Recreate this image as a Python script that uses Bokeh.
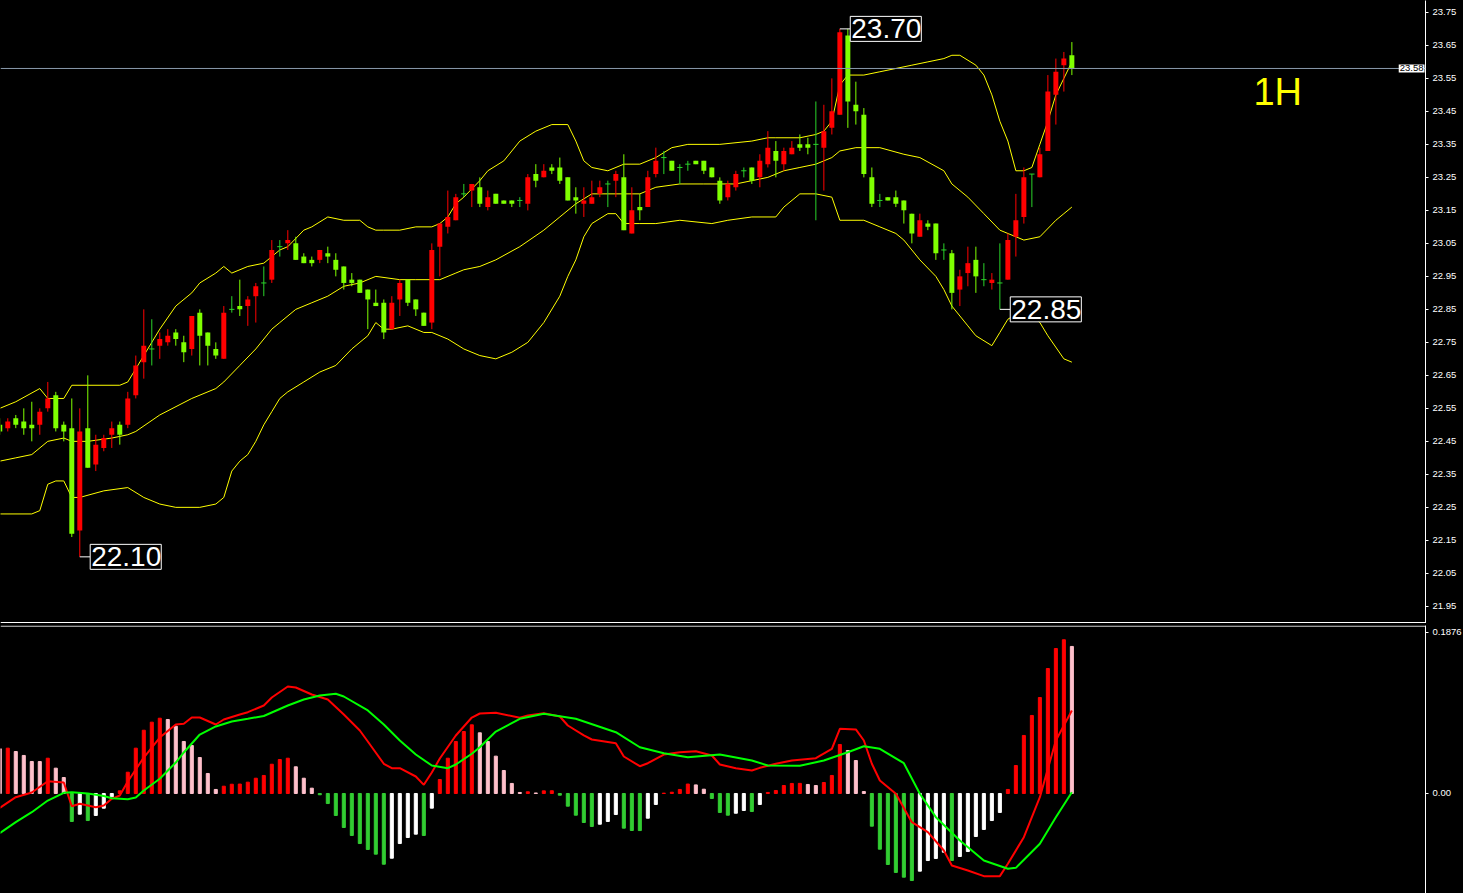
from bokeh.plotting import figure
from bokeh.layouts import column
from bokeh.models import ColumnDataSource, FixedTicker, PrintfTickFormatter, Span, Label, Range1d
from bokeh.embed import file_html
from bokeh.resources import INLINE

# ---------------- data (1H candles) ----------------
opens = [22.50,22.49,22.52,22.51,22.50,22.50,22.55,22.59,22.50,22.49,
         22.18,22.49,22.38,22.43,22.47,22.50,22.50,22.59,22.69,22.73,
         22.74,22.75,22.78,22.75,22.73,22.84,22.78,22.73,22.70,22.85,
         22.86,22.86,22.89,22.93,22.94,23.04,23.05,23.05,23.01,23.00,
         23.00,23.02,23.00,22.98,22.94,22.94,22.91,22.87,22.87,22.79,
         22.88,22.94,22.88,22.84,22.81,23.04,23.10,23.12,23.20,23.21,
         23.22,23.16,23.20,23.18,23.18,23.18,23.17,23.26,23.25,23.28,
         23.28,23.25,23.19,23.17,23.17,23.20,23.23,23.24,23.25,23.08,
         23.16,23.16,23.26,23.31,23.30,23.28,23.29,23.30,23.30,23.28,
         23.24,23.19,23.22,23.27,23.28,23.25,23.29,23.33,23.29,23.32,
         23.35,23.35,23.35,23.34,23.40,23.44,23.68,23.47,23.44,23.25,
         23.18,23.19,23.19,23.18,23.14,23.07,23.11,23.11,23.03,23.02,
         22.91,22.96,23.00,22.94,22.93,22.93,22.94,23.07,23.13,23.26,
         23.25,23.33,23.50,23.59,23.62]
highs = [22.52,22.52,22.53,22.55,22.57,22.55,22.63,22.60,22.51,22.58,
         22.55,22.65,22.47,22.47,22.51,22.51,22.60,22.71,22.85,22.82,
         22.78,22.79,22.79,22.77,22.83,22.85,22.78,22.75,22.86,22.89,
         22.94,22.89,22.93,22.98,23.06,23.06,23.09,23.07,23.02,23.01,
         23.03,23.04,23.02,22.98,22.96,22.94,22.91,22.91,22.88,22.89,
         22.94,22.94,22.88,22.84,23.05,23.11,23.21,23.20,23.23,23.23,
         23.25,23.21,23.20,23.18,23.18,23.19,23.26,23.29,23.29,23.29,
         23.31,23.25,23.22,23.22,23.24,23.24,23.24,23.27,23.32,23.22,
         23.20,23.27,23.34,23.33,23.30,23.29,23.30,23.30,23.30,23.28,
         23.25,23.24,23.27,23.28,23.28,23.32,23.39,23.36,23.34,23.36,
         23.38,23.37,23.48,23.47,23.55,23.70,23.70,23.54,23.46,23.28,
         23.20,23.19,23.21,23.18,23.14,23.14,23.12,23.11,23.05,23.03,
         22.97,23.04,23.04,22.99,22.96,23.05,23.08,23.20,23.28,23.26,
         23.34,23.56,23.61,23.63,23.66]
lows = [22.47,22.48,22.49,22.47,22.45,22.47,22.54,22.48,22.45,22.16,
        22.10,22.37,22.36,22.42,22.43,22.44,22.49,22.58,22.64,22.68,
        22.70,22.74,22.74,22.69,22.71,22.68,22.68,22.70,22.70,22.84,
        22.83,22.80,22.81,22.89,22.93,23.01,23.03,23.00,22.99,22.98,
        22.99,22.99,22.95,22.91,22.92,22.90,22.79,22.86,22.76,22.79,
        22.83,22.86,22.83,22.80,22.79,22.95,23.08,23.12,23.19,23.16,
        23.16,23.15,23.17,23.17,23.16,23.16,23.15,23.22,23.25,23.26,
        23.23,23.18,23.14,23.13,23.17,23.19,23.16,23.19,23.09,23.08,
        23.12,23.16,23.25,23.26,23.27,23.23,23.27,23.29,23.26,23.25,
        23.17,23.18,23.21,23.25,23.23,23.22,23.28,23.25,23.27,23.32,
        23.33,23.32,23.12,23.21,23.38,23.44,23.40,23.41,23.25,23.16,
        23.16,23.18,23.16,23.11,23.05,23.07,23.09,23.00,23.00,22.85,
        22.86,22.92,22.90,22.92,22.91,22.85,22.94,23.01,23.11,23.16,
        23.25,23.33,23.41,23.51,23.56]
closes = [22.48,22.51,22.50,22.49,22.49,22.54,22.58,22.49,22.48,22.17,
          22.48,22.37,22.44,22.46,22.49,22.47,22.58,22.68,22.74,22.73,
          22.76,22.77,22.76,22.72,22.83,22.77,22.74,22.71,22.84,22.85,
          22.85,22.88,22.92,22.93,23.03,23.04,23.06,23.00,22.99,22.99,
          23.03,23.01,22.97,22.93,22.93,22.90,22.88,22.86,22.78,22.87,
          22.93,22.87,22.85,22.80,23.03,23.11,23.13,23.19,23.20,23.23,
          23.17,23.19,23.17,23.17,23.17,23.18,23.25,23.24,23.27,23.27,
          23.24,23.18,23.18,23.18,23.19,23.22,23.23,23.26,23.09,23.15,
          23.15,23.25,23.30,23.31,23.27,23.28,23.29,23.29,23.27,23.25,
          23.18,23.23,23.26,23.27,23.24,23.30,23.34,23.30,23.33,23.34,
          23.34,23.34,23.35,23.39,23.45,23.69,23.48,23.45,23.26,23.17,
          23.18,23.18,23.17,23.15,23.08,23.12,23.10,23.02,23.03,22.90,
          22.95,22.99,22.95,22.94,22.94,22.93,23.06,23.12,23.25,23.26,
          23.32,23.51,23.57,23.61,23.58]

# Bollinger bands (bar index, price)
bb_upper_x = [0,2,5,6,8,9,15,16,18,20,22,24,25,27,28,29,31,33,35,36,38,39,41,43,45,46,
              47,48,50,52,54,55,56,57,58,60,61,63,65,67,69,71,72,73,74,76,78,80,82,84,86,90,
              94,96,97,100,102,103,104,105,106,108,110,112,114,116,118,119,120,122,123,124,
              125,126,127,128,129,130,131,132,133,134]
bb_upper = [22.55,22.57,22.61,22.58,22.58,22.62,22.62,22.63,22.71,22.79,22.86,22.90,22.93,
            22.96,22.98,22.96,22.98,22.99,23.03,23.04,23.09,23.10,23.13,23.12,23.12,23.10,
            23.09,23.09,23.09,23.10,23.10,23.11,23.13,23.17,23.19,23.24,23.27,23.30,23.36,
            23.39,23.41,23.41,23.36,23.30,23.28,23.27,23.29,23.29,23.31,23.34,23.35,23.35,
            23.36,23.37,23.37,23.37,23.38,23.39,23.42,23.53,23.56,23.56,23.57,23.58,23.59,
            23.60,23.61,23.62,23.62,23.59,23.56,23.50,23.42,23.36,23.27,23.27,23.28,23.35,
            23.42,23.50,23.55,23.60]
bb_mid_x = [0,2,4,6,8,9,11,14,16,17,20,24,27,28,30,32,34,35,37,39,41,43,45,47,50,52,54,55,
            57,58,60,62,65,68,70,72,74,76,78,80,82,85,88,90,92,94,96,98,100,102,104,105,107,
            110,113,115,118,119,121,123,125,127,128,130,132,133,134]
bb_mid = [22.39,22.40,22.41,22.45,22.46,22.45,22.45,22.46,22.47,22.48,22.53,22.58,22.61,
          22.63,22.68,22.73,22.79,22.81,22.85,22.87,22.89,22.92,22.93,22.95,22.94,22.94,
          22.94,22.94,22.96,22.97,22.98,23.00,23.04,23.09,23.13,23.17,23.20,23.20,23.20,
          23.20,23.22,23.23,23.23,23.23,23.23,23.24,23.25,23.27,23.28,23.29,23.31,23.33,
          23.34,23.34,23.32,23.31,23.27,23.23,23.19,23.14,23.09,23.07,23.06,23.07,23.12,
          23.14,23.16]
bb_lower_x = [0,4,5,6,7,8,9,10,13,16,18,20,22,25,27,28,29,30,31,32,33,34,35,36,38,40,42,44,
              46,47,48,49,51,53,54,56,58,60,62,64,66,68,70,71,72,73,74,76,77,78,80,82,85,89,
              91,94,97,98,100,102,104,105,108,110,112,113,115,117,118,119,121,122,124,125,
              126,128,130,131,133,134]
bb_lower = [22.23,22.23,22.24,22.32,22.33,22.33,22.28,22.28,22.30,22.31,22.28,22.26,22.25,
            22.25,22.26,22.28,22.36,22.39,22.41,22.45,22.50,22.54,22.58,22.60,22.63,22.66,
            22.68,22.73,22.77,22.81,22.79,22.79,22.80,22.78,22.78,22.76,22.73,22.71,22.70,
            22.72,22.75,22.81,22.89,22.95,23.00,23.07,23.11,23.14,23.14,23.11,23.11,23.11,
            23.12,23.11,23.12,23.13,23.13,23.16,23.20,23.20,23.19,23.12,23.12,23.10,23.08,
            23.06,23.00,22.95,22.91,22.86,22.80,22.77,22.74,22.78,22.82,22.85,22.81,22.77,
            22.70,22.69]

# MACD panel
macd_hist = [0.0521,0.0528,0.0489,0.0443,0.0373,0.0372,0.0411,0.0295,0.0186,-0.0326,
             -0.0241,-0.0315,-0.0256,-0.0171,-0.0038,0.0031,0.0248,0.0528,0.0737,0.0831,
             0.0877,0.0862,0.0784,0.0606,0.0559,0.0419,0.0233,0.0047,0.0085,0.0108,
             0.0110,0.0132,0.0178,0.0210,0.0341,0.0396,0.0411,0.0311,0.0178,0.0062,
             -0.0015,-0.0117,-0.0256,-0.0396,-0.0489,-0.0583,-0.0652,-0.0707,-0.0824,-0.0754,
             -0.0583,-0.0513,-0.0474,-0.0489,-0.0171,0.0163,0.0411,0.0606,0.0722,0.0800,
             0.0707,0.0606,0.0435,0.0268,0.0117,0.0012,0.0020,0.0006,0.0031,0.0032,
             -0.0020,-0.0148,-0.0253,-0.0338,-0.0384,-0.0358,-0.0326,-0.0245,-0.0404,-0.0431,
             -0.0432,-0.0288,-0.0128,0.0004,0.0015,0.0047,0.0110,0.0100,0.0050,-0.0058,
             -0.0221,-0.0253,-0.0230,-0.0198,-0.0210,-0.0128,0.0012,0.0035,0.0093,0.0117,
             0.0118,0.0105,0.0093,0.0128,0.0210,0.0571,0.0501,0.0384,0.0023,-0.0381,
             -0.0649,-0.0827,-0.0920,-0.0975,-0.1014,-0.0905,-0.0781,-0.0757,-0.0684,-0.0781,
             -0.0734,-0.0676,-0.0501,-0.0419,-0.0315,-0.0221,0.0047,0.0326,0.0676,0.0909,
             0.1118,0.1456,0.1689,0.1791,0.1713]
macd_hist_kind = ("prpppprppg" "wgwwwrrrrr" "rppppppprr" "rrrrrrrppp" "gggggggggw"
                  "wwwgwrrrrr" "pppppprprr" "gggggwwwgg" "gwwrrrrppg" "ggwwgwrrrr"
                  "rpprrrpppg" "gggggwwwwg" "wwwwwwrrrr" "rrrrp")
macd_x = [0,2,4,6,8,9,10,12,13,14,15,16,17,18,20,22,23,24,25,27,28,30,31,33,34,36,37,39,41,
          43,45,46,48,49,50,52,53,54,55,57,59,60,62,65,66,68,70,71,73,74,77,78,80,81,83,85,
          87,89,90,92,94,95,97,99,102,104,105,107,108,109,110,112,114,116,118,119,121,123,
          125,126,128,130,132,134]
macd_line = [-0.0167,-0.0043,0.0012,0.0143,0.0128,-0.0148,-0.0120,-0.0160,-0.0140,-0.0062,
             -0.0023,0.0140,0.0280,0.0419,0.0652,0.0804,0.0812,0.0885,0.0885,0.0804,
             0.0862,0.0920,0.0947,0.1025,0.1118,0.1247,0.1235,0.1153,0.1095,0.0920,
             0.0734,0.0606,0.0346,0.0295,0.0295,0.0198,0.0101,0.0245,0.0408,0.0676,
             0.0885,0.0932,0.0940,0.0882,0.0909,0.0935,0.0897,0.0792,0.0676,0.0629,
             0.0586,0.0431,0.0318,0.0353,0.0454,0.0481,0.0493,0.0443,0.0338,0.0295,
             0.0268,0.0299,0.0346,0.0384,0.0411,0.0521,0.0754,0.0746,0.0617,0.0346,
             0.0151,-0.0003,-0.0334,-0.0451,-0.0664,-0.0839,-0.0897,-0.0963,-0.0963,-0.0819,
             -0.0509,-0.0043,0.0617,0.0967]
signal_x = [0,2,4,6,8,9,11,13,14,16,17,18,20,22,23,25,27,29,31,33,36,38,40,42,43,46,48,50,
            52,54,56,57,59,60,62,65,68,72,77,80,83,86,90,94,96,100,103,106,108,110,113,115,
            117,120,123,126,127,130,132,134]
signal_line = [-0.0462,-0.0334,-0.0218,-0.0082,0.0008,0.0015,0.0000,-0.0029,-0.0055,-0.0066,
               -0.0047,0.0035,0.0171,0.0361,0.0478,0.0687,0.0781,0.0839,0.0870,0.0903,
               0.1025,0.1095,0.1142,0.1162,0.1130,0.0967,0.0804,0.0617,0.0454,0.0326,
               0.0295,0.0338,0.0463,0.0539,0.0722,0.0870,0.0929,0.0870,0.0714,0.0539,
               0.0469,0.0423,0.0454,0.0384,0.0326,0.0323,0.0384,0.0481,0.0551,0.0521,
               0.0353,-0.0003,-0.0276,-0.0548,-0.0781,-0.0877,-0.0866,-0.0586,-0.0276,0.0015]

price_ticks = [21.95,22.05,22.15,22.25,22.35,22.45,22.55,22.65,22.75,22.85,
               22.95,23.05,23.15,23.25,23.35,23.45,23.55,23.65,23.75]
macd_ticks = [0.0, 0.1876]
macd_tick_labels = ["0.00", "0.1876"]

mark_bars = [105, 10, 125]
mark_prices = [23.70, 22.10, 22.85]
mark_texts = ["23.70", "22.10", "22.85"]
timeframe_text = "1H"

# ---------------- styling ----------------
BG = "black"
RED = "#ff0000"
GREEN = "#7fff00"
DOJI = "#2ad32a"
YELLOW = "#ffff00"
HIST_COLORS = {"r": "#ff0000", "p": "#ffc0cb", "g": "#32cd32", "w": "#ffffff"}
AX_FONT = "Liberation Sans"

FW = 1425
AXW = 38
FH1 = 623
GAP = 2
FH2 = 268
XR = Range1d(0.09, 178.2)

def style_axis(ax):
    ax.axis_line_color = "white"
    ax.major_tick_line_color = "white"
    ax.major_tick_out = 3
    ax.major_tick_in = 0
    ax.minor_tick_line_color = None
    ax.major_label_text_color = "white"
    ax.major_label_text_font = AX_FONT
    ax.major_label_text_font_size = "9.5px"
    ax.major_label_standoff = 4

p1 = figure(frame_width=FW, frame_height=FH1, x_range=XR, y_range=Range1d(21.898, 23.786),
            y_axis_location="right", x_axis_location=None, toolbar_location=None,
            output_backend="svg", background_fill_color=BG, border_fill_color=BG,
            outline_line_color=None, min_border_left=0, min_border_top=0,
            min_border_bottom=0, min_border_right=AXW)
p1.grid.visible = False
style_axis(p1.yaxis[0])
p1.yaxis[0].ticker = FixedTicker(ticks=price_ticks)
p1.yaxis[0].formatter = PrintfTickFormatter(format="%.2f")

bars = list(range(len(opens)))
def subset(cond):
    idx = [k for k in bars if cond(k)]
    return ColumnDataSource(dict(
        x=idx,
        top=[max(opens[k], closes[k]) for k in idx],
        bottom=[min(opens[k], closes[k]) for k in idx],
        high=[highs[k] for k in idx],
        low=[lows[k] for k in idx],
        close=[closes[k] for k in idx],
        xl=[k - 0.33 for k in idx],
        xr=[k + 0.33 for k in idx]))

src_up = subset(lambda k: closes[k] > opens[k])
src_dn = subset(lambda k: closes[k] < opens[k])
src_dj = subset(lambda k: closes[k] == opens[k])

# Bollinger bands
p1.line(bb_upper_x, bb_upper, line_color=YELLOW, line_width=1)
p1.line(bb_mid_x, bb_mid, line_color=YELLOW, line_width=1)
p1.line(bb_lower_x, bb_lower, line_color=YELLOW, line_width=1)

# candles
for src, col in ((src_up, RED), (src_dn, GREEN)):
    p1.segment(x0="x", y0="low", x1="x", y1="high", source=src, line_color=col, line_width=1)
    p1.vbar(x="x", width=0.62, top="top", bottom="bottom", source=src,
            fill_color=col, line_color=None)
p1.segment(x0="x", y0="low", x1="x", y1="high", source=src_dj, line_color=DOJI, line_width=1)
p1.segment(x0="xl", y0="close", x1="xr", y1="close", source=src_dj, line_color=DOJI, line_width=1)

# current price line and its price tag (kept inside the frame, at the axis)
p1.add_layout(Span(location=closes[-1], dimension="width", line_color="#8899aa", line_width=1))
p1.add_layout(Label(x=FW - 1, y=closes[-1], x_units="screen", text="%.2f" % closes[-1],
                    text_color="black", text_font=AX_FONT, text_font_size="9.5px",
                    text_align="right", text_baseline="middle",
                    background_fill_color="white", padding=1))

# high / low markers
p1.segment(x0=mark_bars, y0=mark_prices, x1=[b + 1.3 for b in mark_bars], y1=mark_prices,
           line_color="white", line_width=1)
for b, pr, t in zip(mark_bars, mark_prices, mark_texts):
    p1.add_layout(Label(x=b + 1.3, y=pr, text=t, text_color="white",
                        text_font="Liberation Sans", text_font_size="28px",
                        text_align="left", text_baseline="middle",
                        background_fill_color="black", border_line_color="white",
                        border_line_width=1,
                        padding=dict(left=1, right=0, top=3, bottom=3)))

p1.add_layout(Label(x=156.7, y=23.51, text=timeframe_text, text_color="#ffff00",
                    text_font="Liberation Sans", text_font_size="38px",
                    text_align="left", text_baseline="alphabetic"))

# panel border line
p1.add_layout(Span(location=21.901, dimension="width", line_color="white", line_width=1))

# ---------------- MACD panel ----------------
p2 = figure(frame_width=FW, frame_height=FH2, x_range=XR, y_range=Range1d(-0.1165, 0.1957),
            y_axis_location="right", x_axis_location=None, toolbar_location=None,
            output_backend="svg", background_fill_color=BG, border_fill_color=BG,
            outline_line_color=None, min_border_left=0, min_border_top=GAP,
            min_border_bottom=0, min_border_right=AXW)
p2.grid.visible = False
style_axis(p2.yaxis[0])
p2.yaxis[0].ticker = FixedTicker(ticks=macd_ticks)
p2.yaxis[0].major_label_overrides = {t: l for t, l in zip(macd_ticks, macd_tick_labels)}

p2.vbar(x=bars, width=0.38, top=macd_hist, bottom=0,
        color=[HIST_COLORS[c] for c in macd_hist_kind])
p2.line(macd_x, macd_line, line_color="#ff0000", line_width=2)
p2.line(signal_x, signal_line, line_color="#00ff00", line_width=2)
p2.add_layout(Span(location=0.1950, dimension="width", line_color="white", line_width=1))

layout = column(p1, p2, spacing=0, styles={"background-color": "black"})
open("out.html", "w").write(file_html(layout, INLINE))
